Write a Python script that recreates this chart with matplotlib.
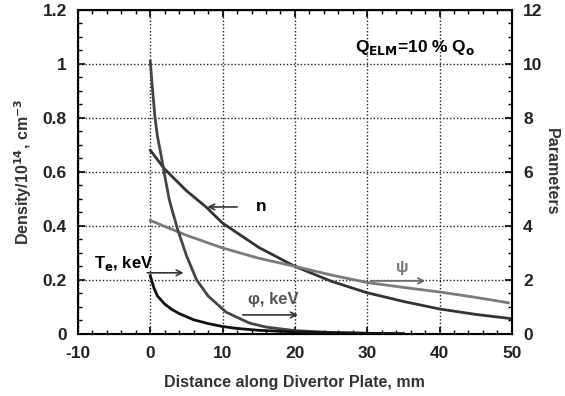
import matplotlib.pyplot as plt
from matplotlib.ticker import MultipleLocator

plt.rcParams['font.family'] = ['Liberation Sans', 'DejaVu Sans']
plt.rcParams['font.weight'] = 'bold'
plt.rcParams['axes.labelweight'] = 'bold'
plt.rcParams['axes.unicode_minus'] = False

# density n (left axis, 1e14 cm^-3)
n_x = [0, 2, 5, 7.7, 10, 15, 20, 25, 30, 35, 40, 45, 50]
n_y = [0.68, 0.61, 0.53, 0.47, 0.41, 0.32, 0.25, 0.195, 0.152, 0.12, 0.092, 0.072, 0.056]

# parameters (right axis)
psi_x = [0, 5, 10, 15, 20, 25, 30, 35, 40, 45, 49.5]
psi_y = [4.2, 3.65, 3.18, 2.8, 2.5, 2.18, 1.9, 1.72, 1.55, 1.35, 1.15]

phi_x = [0, 0.23, 0.65, 1.0, 1.5, 1.9, 2.6, 3.0, 3.8, 5.0, 6.4, 8.0, 10.5, 13.7, 16, 20, 25, 30]
phi_y = [10.1, 9.3, 8.0, 7.3, 6.6, 6.0, 5.0, 4.6, 3.85, 2.9, 2.0, 1.4, 0.8, 0.4, 0.25, 0.12, 0.05, 0.02]

te_x = [0, 0.5, 1, 2, 3, 4, 6, 8, 10, 12, 15, 20, 25, 30, 35]
te_y = [2.15, 1.7, 1.4, 1.1, 0.9, 0.75, 0.52, 0.38, 0.27, 0.2, 0.13, 0.07, 0.04, 0.02, 0.01]

fig = plt.figure(figsize=(5.65, 3.96), dpi=100)
ax = fig.add_axes([0.138, 0.157, 0.768, 0.818])
ax2 = ax.twinx()

ax.set_xlim(-10, 50)
ax.set_ylim(0, 1.2)
ax2.set_ylim(0, 12)

ax.xaxis.set_major_locator(MultipleLocator(10))
ax.xaxis.set_minor_locator(MultipleLocator(2))
ax.yaxis.set_minor_locator(MultipleLocator(0.05))
ax2.yaxis.set_major_locator(MultipleLocator(2))
ax2.yaxis.set_minor_locator(MultipleLocator(0.5))

ax.set_yticks([0, 0.2, 0.4, 0.6, 0.8, 1, 1.2])
ax.set_yticklabels(['0', '0.2', '0.4', '0.6', '0.8', '1', '1.2'])

ax.tick_params(which='both', direction='in', top=True, right=False, labelsize=12.5, labelcolor='#222222')
ax.tick_params(axis='x', which='major', pad=9)
ax.tick_params(axis='y', which='major', pad=8)
ax.tick_params(which='major', length=5, width=1.2)
ax.tick_params(which='minor', length=3, width=1)
ax2.tick_params(which='both', direction='in', labelsize=12.5, labelcolor='#222222')
ax2.tick_params(which='major', length=5, width=1.2, pad=8)
ax2.tick_params(which='minor', length=3, width=1)

for s in ax.spines.values():
    s.set_linewidth(1.5)

ax.grid(True, which='major', color='#222222', linestyle=(0, (1, 1.5)), linewidth=1)
ax.set_axisbelow(True)

ax.plot(n_x, n_y, color='#333333', lw=2)
ax2.plot(psi_x, psi_y, color='#7a7a7a', lw=2)
ax2.plot(phi_x, phi_y, color='#444444', lw=2)
ax2.plot(te_x, te_y, color='#111111', lw=2)

ax.set_xlabel('Distance along Divertor Plate, mm', fontsize=11.5, color='#333333', labelpad=10)
ax.set_ylabel('Density/10$^{\\mathbf{14}}$, cm$^{\\mathbf{-3}}$', fontsize=11.5, color='#333333', labelpad=6)
ax2.set_ylabel('Parameters', fontsize=11.5, color='#333333', rotation=270, labelpad=12)

ap = dict(arrowstyle='->', color='#333333', lw=1.2)
ax.annotate('', xy=(7.5, 0.47), xytext=(12.4, 0.47), arrowprops=ap)
ax.text(14.6, 0.47, 'n', fontsize=12.5, va='center')
ax.annotate('', xy=(5.0, 0.226), xytext=(-0.8, 0.226), arrowprops=ap)
ax.text(-7.8, 0.262, 'T$_\\mathbf{e}$, keV', fontsize=12, va='center')
ax.annotate('', xy=(20.8, 0.07), xytext=(12.4, 0.07), arrowprops=ap)
ax.text(13.5, 0.126, '\u03c6, keV', fontsize=12, va='center', color='#555555')
ax.annotate('', xy=(38.4, 0.196), xytext=(30.1, 0.196), arrowprops=dict(arrowstyle='->', color='#666666', lw=1.2))
ax.text(34.9, 0.244, '\u03c8', fontsize=12, va='center', ha='center', color='#777777')
ax.text(28.3, 1.06, 'Q$_{\\mathbf{ELM}}$=10 % Q$_\\mathbf{o}$', fontsize=12.5, va='center')

fig.savefig('out.png', dpi=100)
